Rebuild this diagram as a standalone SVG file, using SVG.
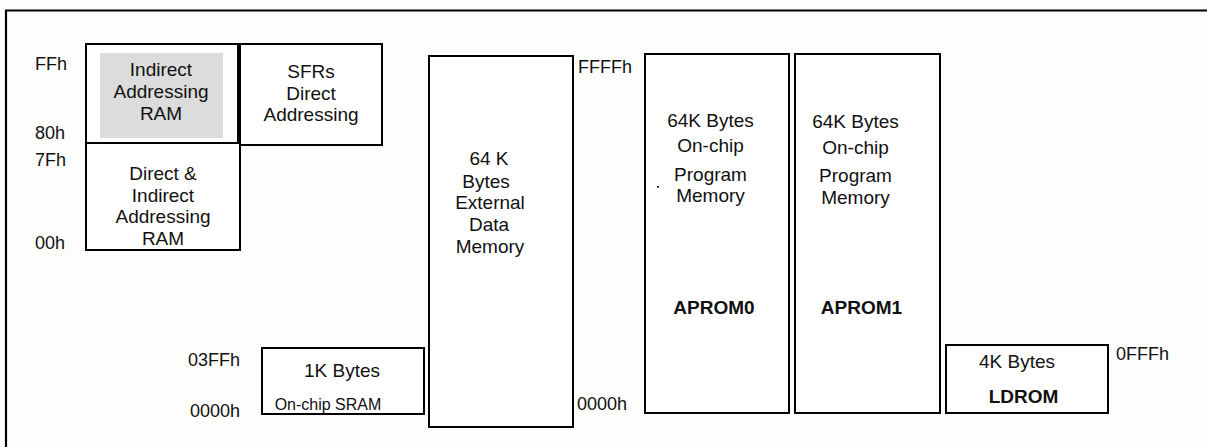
<svg xmlns="http://www.w3.org/2000/svg" width="1207" height="447" viewBox="0 0 1207 447">
<style>
.box{fill:#ffffff;stroke:#000;stroke-width:2}
.t{font-family:"Liberation Sans",Arial,sans-serif;font-size:19px;fill:#111}
.m{text-anchor:middle}
.b{font-weight:bold}
.s{font-size:16px}
.l{font-family:"Liberation Sans",Arial,sans-serif;font-size:18px;fill:#111}
.e{text-anchor:end}
</style>
<rect x="0" y="0" width="1207" height="447" fill="#fdfdfb"/>
<g id="frame">
<path d="M6 447 V10.5 H1207" fill="none" stroke="#000" stroke-width="2.2"/>
</g>
<g id="labels">
<text class="l" x="35" y="70">FFh</text>
<text class="l" x="35" y="139">80h</text>
<text class="l" x="35" y="166">7Fh</text>
<text class="l" x="35" y="249">00h</text>
<text class="l e" x="240" y="366">03FFh</text>
<text class="l e" x="240" y="417">0000h</text>
<text class="l" x="578" y="73">FFFFh</text>
<text class="l" x="577" y="410">0000h</text>
<text class="l" x="1116" y="360">0FFFh</text>
</g>
<g id="indirect-ram">
<rect class="box" x="86" y="44" width="152" height="99"/>
<rect x="100" y="53" width="123" height="85" fill="#dcdcdc"/>
<text class="t m" x="161" y="76">Indirect</text>
<text class="t m" x="161" y="98">Addressing</text>
<text class="t m" x="161" y="120">RAM</text>
</g>
<g id="sfrs">
<rect class="box" x="240" y="44" width="142" height="101"/>
<text class="t m" x="311" y="78">SFRs</text>
<text class="t m" x="311" y="100">Direct</text>
<text class="t m" x="311" y="121">Addressing</text>
</g>
<g id="direct-indirect-ram">
<rect class="box" x="86" y="143" width="154" height="107"/>
<text class="t m" x="163" y="180">Direct &amp;</text>
<text class="t m" x="163" y="202">Indirect</text>
<text class="t m" x="163" y="223">Addressing</text>
<text class="t m" x="163" y="245">RAM</text>
</g>
<g id="sram">
<rect class="box" x="262" y="348" width="162" height="66"/>
<text class="t m" x="342" y="377">1K Bytes</text>
<text class="t s m" x="328" y="410">On-chip SRAM</text>
</g>
<g id="external-data">
<rect class="box" x="429" y="56" width="144" height="371"/>
<text class="t m" x="489" y="165">64 K</text>
<text class="t m" x="486" y="188">Bytes</text>
<text class="t m" x="490" y="209">External</text>
<text class="t m" x="489" y="231">Data</text>
<text class="t m" x="490" y="253">Memory</text>
</g>
<g id="aprom0">
<rect class="box" x="645" y="54" width="144" height="359"/>
<text class="t m" x="710.5" y="127">64K Bytes</text>
<text class="t m" x="710.5" y="152">On-chip</text>
<text class="t m" x="710.5" y="181">Program</text>
<text class="t m" x="710.5" y="202">Memory</text>
<text class="t b m" x="714" y="314">APROM0</text>
<rect x="657" y="186" width="2" height="1.5" fill="#000"/>
</g>
<g id="aprom1">
<rect class="box" x="795" y="54" width="145" height="359"/>
<text class="t m" x="855.5" y="128">64K Bytes</text>
<text class="t m" x="855.5" y="154">On-chip</text>
<text class="t m" x="855.5" y="182">Program</text>
<text class="t m" x="855.5" y="204">Memory</text>
<text class="t b m" x="861.5" y="314">APROM1</text>
</g>
<g id="ldrom">
<rect class="box" x="946" y="345" width="162" height="68"/>
<text class="t m" x="1017" y="368">4K Bytes</text>
<text class="t b m" x="1023.5" y="403">LDROM</text>
</g>
<g id="connectors"></g>
</svg>
